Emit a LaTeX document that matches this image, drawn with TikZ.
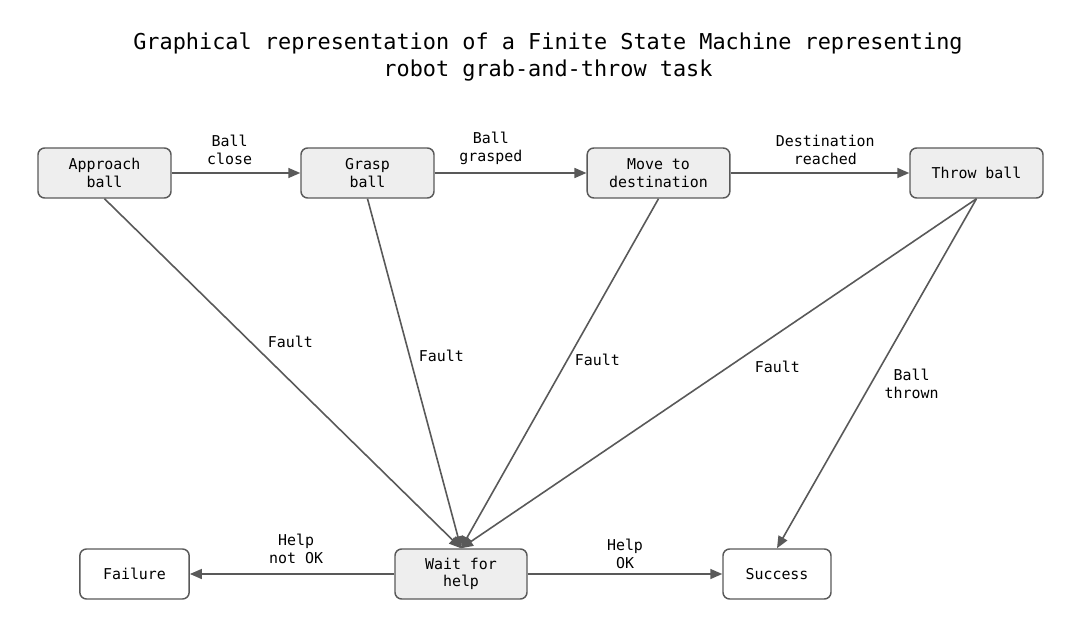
\documentclass[tikz,border=0pt]{standalone}
\usepackage{fontspec}
\setmonofont{DejaVu Sans Mono}
\usetikzlibrary{arrows.meta}
\definecolor{linegrey}{HTML}{595959}
\definecolor{statefill}{HTML}{EEEEEE}
\tikzstyle{state} = [draw=linegrey, fill=statefill, line width=1.1pt, rectangle, rounded corners=5pt, minimum width=99.75pt, minimum height=37.5pt, inner sep=0pt, align=center, font=\ttfamily\fontsize{11.2}{13}\selectfont]
\tikzstyle{final} = [state, fill=white]
\tikzstyle{trans} = [draw=linegrey, line width=1.2pt, -{Triangle[length=9pt,width=7.5pt]}]
\tikzstyle{lbl} = [align=center, text=black, font=\ttfamily\fontsize{11.2}{13.5}\selectfont]

\begin{document}
\begin{tikzpicture}[x=0.75pt, y=-0.75pt]
\useasboundingbox (0,0) rectangle (1075,627);
\node [align=center, font=\ttfamily\fontsize{16.4}{20}\selectfont] (title) at (548,57)
    {Graphical representation of a Finite State Machine representing\\robot grab-and-throw task};

% states
\node [state] (approach) at (104.5,173) {Approach\\ball};
\node [state] (grasp) at (367.5,173) {Grasp\\ball};
\node [state, minimum width=107pt] (move) at (658.5,173) {Move to\\destination};
\node [state] (throw) at (976.5,173) {Throw ball};
\node [state, minimum width=99pt] (wait) at (461,574) {Wait for\\help};
\node [final, minimum width=82pt] (failure) at (134.5,574) {Failure};
\node [final, minimum width=81pt] (success) at (777,574) {Success};

% transitions
\draw [trans] (approach) -- node[lbl, above=2.2pt, pos=0.45] {Ball\\close} (grasp);
\draw [trans] (grasp) -- node[lbl, above=2.2pt, pos=0.37] {Ball\\grasped} (move);
\draw [trans] (move) -- node[lbl, above=2.2pt, pos=0.53] {Destination\\reached} (throw);
\draw [trans] (approach.south) -- node[lbl, pos=0.41, right=9pt] {Fault} (wait.north);
\draw [trans] (grasp.south) -- node[lbl, pos=0.45, right=3pt] {Fault} (wait.north);
\draw [trans] (move.south) -- node[lbl, pos=0.46, right=1.5pt] {Fault} (wait.north);
\draw [trans] (throw.south) -- node[lbl, pos=0.48, right=15.5pt] {Fault} (wait.north);
\draw [trans] (throw.south) -- node[lbl, pos=0.53, right=6.4pt] {Ball\\thrown} (success.north);
\draw [trans] (wait) -- node[lbl, above=3.7pt, pos=0.48] {Help\\not OK} (failure);
\draw [trans] (wait) -- node[lbl, above, pos=0.5] {Help\\OK} (success);
\end{tikzpicture}
\end{document}
